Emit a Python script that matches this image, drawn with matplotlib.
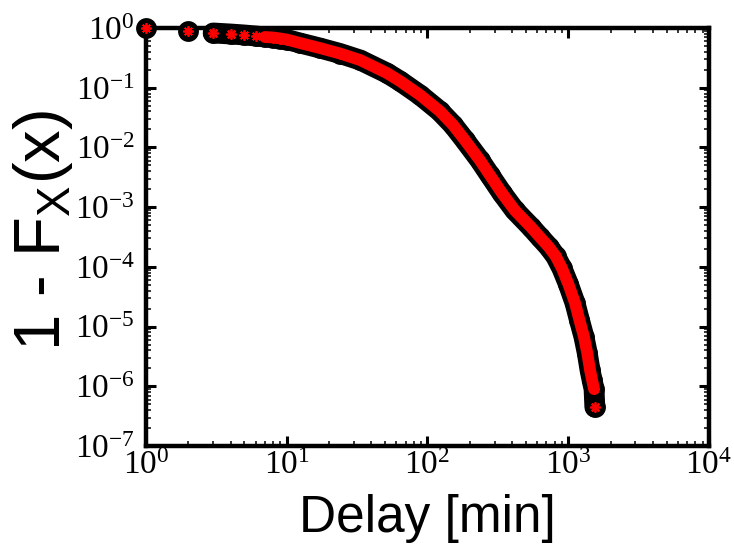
import matplotlib
matplotlib.use("Agg")
import matplotlib.pyplot as plt
from matplotlib.ticker import LogLocator, NullFormatter

# Complementary cumulative distribution of delays (log-log)
delay_min = [1, 2, 3, 4, 5, 6, 7, 8, 9, 10,
             12.4, 17.2, 23.9, 33.2, 51.5, 63.8, 88.5, 122, 152, 184,
             235, 277, 338, 416, 543, 628, 728, 815, 901, 1000,
             1117, 1200, 1294, 1365, 1428, 1477, 1525, 1545]
ccdf = [1.0, 0.891, 0.825, 0.793, 0.764, 0.735, 0.707, 0.693, 0.667, 0.641,
        0.561, 0.462, 0.374, 0.291, 0.176, 0.129, 0.0755, 0.0407, 0.0237, 0.0133,
        6.15e-3, 3.45e-3, 1.72e-3, 8.9e-4, 4.64e-4, 3.16e-4, 2.15e-4, 1.50e-4, 9.5e-5, 5.2e-5,
        2.48e-5, 1.29e-5, 6.67e-6, 3.6e-6, 1.87e-6, 1.27e-6, 8.97e-7, 4.49e-7]

plt.rcParams["font.family"] = ["Liberation Serif", "DejaVu Serif"]
plt.rcParams["mathtext.fontset"] = "custom"
plt.rcParams["mathtext.rm"] = "Liberation Serif"
plt.rcParams["mathtext.sf"] = "Liberation Sans"

W, H = 734, 545
fig = plt.figure(figsize=(W / 100, H / 100), dpi=100)
ax = fig.add_axes([146 / W, (H - 446) / H, (709 - 146) / W, (446 - 28) / H])
ax.set_xscale("log")
ax.set_yscale("log")
ax.set_xlim(1, 1e4)
ax.set_ylim(1e-7, 1)
for axis in (ax.xaxis, ax.yaxis):
    axis.set_major_locator(LogLocator(base=10, numticks=20))
    axis.set_minor_locator(LogLocator(base=10, subs=range(2, 10), numticks=20))
    axis.set_minor_formatter(NullFormatter())

D = 15.0  # circle diameter in points
# black outline band + circles
ax.plot(delay_min[2:], ccdf[2:], color="black", lw=D, solid_capstyle="round",
        solid_joinstyle="round", zorder=3, clip_on=False)
ax.plot(delay_min, ccdf, ls="none", marker="o", ms=D, mfc="black", mec="black",
        mew=0, zorder=3, clip_on=False)
# red core + asterisks
ax.plot(delay_min[6:-1], ccdf[6:-1], color="red", lw=8.5, solid_capstyle="round",
        solid_joinstyle="round", zorder=4, clip_on=False)
ax.plot(delay_min, ccdf, ls="none", marker=(8, 2, 0), ms=7.5, mec="red", mfc="red",
        mew=1.3, zorder=5, clip_on=False)

for s in ax.spines.values():
    s.set_linewidth(3.2)
ax.tick_params(which="major", direction="in", length=7.2, width=2.2,
               top=True, right=True, labelsize=24)
ax.tick_params(which="minor", direction="in", length=3.6, width=1.1,
               top=True, right=True)
ax.tick_params(axis="y", which="major", pad=8)
ax.tick_params(axis="x", which="major", pad=3)

fig.text(427.5 / W, 1 - 532 / H, "Delay [min]", ha="center", va="baseline",
         fontsize=37, family="Liberation Sans")
fig.text(60 / W, 1 - 230 / H, r"1 - F$_{\mathdefault{X}}$(x)", rotation=90,
         rotation_mode="anchor", ha="center", va="baseline",
         fontsize=47, family="Liberation Sans")

fig.savefig("out.png", dpi=100)
